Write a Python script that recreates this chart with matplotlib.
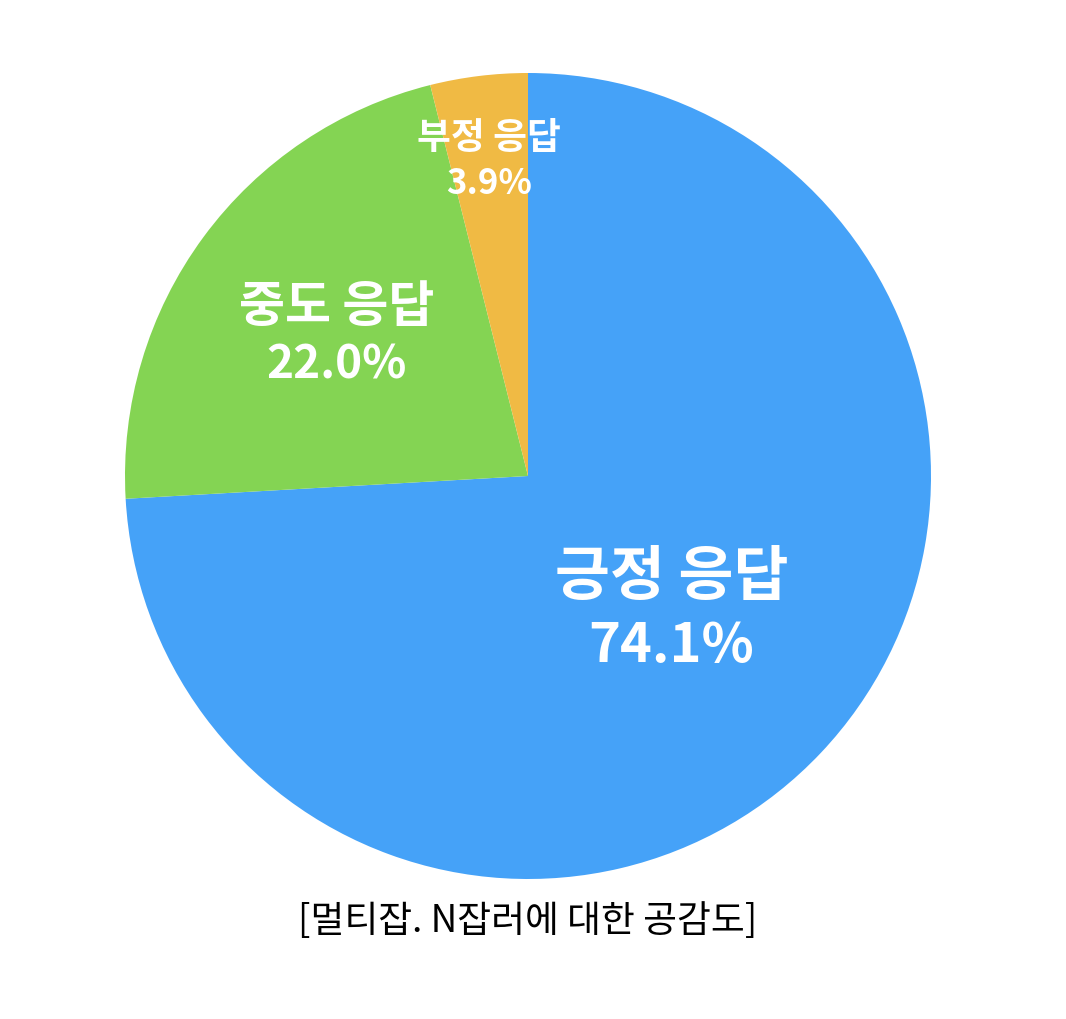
import numpy as np
import matplotlib
matplotlib.use("Agg")
import matplotlib.pyplot as plt

plt.rcParams['font.family'] = ['Noto Sans CJK KR', 'DejaVu Sans']

labels = ["긍정 응답", "중도 응답", "부정 응답"]
values = [74.1, 22.0, 3.9]
colors = ["#45a2f8", "#84d453", "#f0ba44"]
title = "[멀티잡. N잡러에 대한 공감도]"

# label placement per slice: radius (fraction of pie radius), font sizes
label_r = [0.49, 0.59, 0.79]
name_size = [43, 36, 26.5]
pct_size = [39, 33, 25]
line_gap = [0.085, 0.072, 0.055]

fig = plt.figure(figsize=(10.66, 10.2), dpi=100)
ax = fig.add_axes([125 / 1066, 140 / 1020, 806 / 1066, 806 / 1020])
wedges, _ = ax.pie(values, colors=colors, startangle=90, counterclock=False,
                   wedgeprops=dict(linewidth=0))
ax.set_xlim(-1, 1)
ax.set_ylim(-1, 1)
ax.set_aspect("equal")
ax.axis("off")

for i, w in enumerate(wedges):
    mid = np.deg2rad((w.theta1 + w.theta2) / 2)
    x = label_r[i] * np.cos(mid)
    y = label_r[i] * np.sin(mid)
    ax.text(x, y + line_gap[i], labels[i], ha="center", va="center",
            color="white", fontsize=name_size[i], fontweight="bold")
    ax.text(x, y - line_gap[i], f"{values[i]:.1f}%", ha="center", va="center",
            color="white", fontsize=pct_size[i], fontweight="bold")

fig.text(528 / 1066, 1 - 922 / 1020, title, ha="center", va="center",
         fontsize=26.5, color="black", fontweight="medium")

fig.savefig("out.png", dpi=100)
